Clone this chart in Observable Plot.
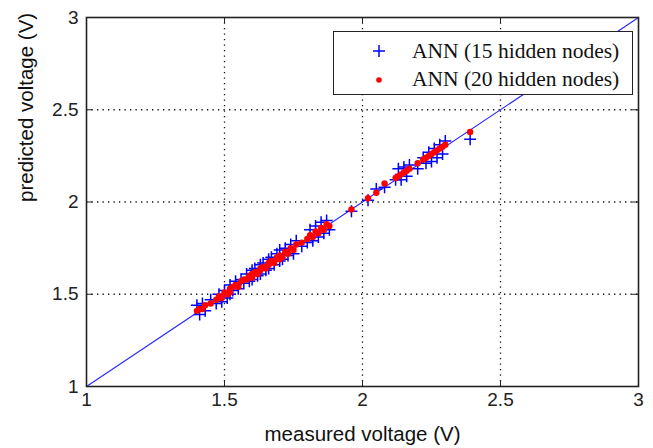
<!DOCTYPE html>
<html>
<head>
<meta charset="utf-8">
<script src="https://cdn.jsdelivr.net/npm/d3@7"></script>
<script src="https://cdn.jsdelivr.net/npm/@observablehq/plot@0.6"></script>
<style>
  html, body { margin: 0; padding: 0; background: #fff; }
  #wrap { position: relative; width: 653px; height: 448px; }
  #legend { position: absolute; left: 333px; top: 31px; width: 300px; height: 64px;
    border: 1px solid #222; background: #fff; box-sizing: border-box;
    font-family: "Liberation Serif", "Times New Roman", serif; font-size: 21.5px; color: #111; }
  #legend .row { position: absolute; left: 0; height: 26px; line-height: 26px; white-space: nowrap; }
  #legend svg { position: absolute; left: 33px; top: 0; }
  #legend span { position: absolute; left: 78px; top: 0; }
</style>
</head>
<body>
<div id="wrap"></div>
<script>
// ---- data ----
const measured = [1.40,1.41,1.42,1.43,1.45,1.47,1.48,1.49,1.50,1.51,1.52,1.52,1.53,1.54,1.55,1.56,1.57,1.58,1.59,1.60,1.60,1.61,1.62,1.63,1.63,1.64,1.65,1.66,1.66,1.67,1.68,1.69,1.70,1.70,1.71,1.72,1.73,1.74,1.75,1.76,1.78,1.80,1.81,1.82,1.83,1.84,1.85,1.86,1.87,1.88,1.96,2.02,2.05,2.08,2.12,2.13,2.14,2.15,2.16,2.17,2.20,2.22,2.23,2.24,2.25,2.26,2.27,2.28,2.29,2.30,2.39];
const ann15 = [1.44,1.39,1.45,1.41,1.47,1.45,1.50,1.46,1.52,1.48,1.55,1.50,1.52,1.57,1.53,1.58,1.56,1.61,1.57,1.63,1.58,1.64,1.60,1.66,1.61,1.67,1.63,1.69,1.64,1.70,1.66,1.72,1.68,1.74,1.69,1.75,1.71,1.77,1.72,1.79,1.76,1.78,1.85,1.79,1.87,1.81,1.89,1.83,1.90,1.85,1.95,2.01,2.07,2.08,2.12,2.18,2.12,2.19,2.14,2.20,2.18,2.24,2.21,2.27,2.22,2.29,2.24,2.31,2.26,2.33,2.34];
const ann20 = [1.41,1.42,1.42,1.44,1.45,1.47,1.49,1.48,1.51,1.50,1.53,1.51,1.54,1.55,1.54,1.57,1.58,1.58,1.60,1.59,1.61,1.62,1.61,1.64,1.63,1.65,1.64,1.67,1.66,1.68,1.67,1.70,1.69,1.71,1.70,1.73,1.72,1.75,1.74,1.77,1.78,1.80,1.82,1.81,1.84,1.83,1.86,1.85,1.88,1.87,1.96,2.02,2.05,2.10,2.13,2.14,2.15,2.16,2.17,2.18,2.21,2.23,2.24,2.25,2.26,2.27,2.28,2.29,2.30,2.31,2.38];
const idealLine = [1, 3];
const ticks = [1, 1.5, 2, 2.5, 3];
const gridVals = [1.5, 2, 2.5];
const seriesNames = ["ANN (15 hidden nodes)", "ANN (20 hidden nodes)"];

const pts15 = measured.map((m, i) => ({m, p: ann15[i]}));
const pts20 = measured.map((m, i) => ({m, p: ann20[i]}));

const W = 653, H = 448, mL = 86, mR = 15, mT = 17, mB = 62;
const fw = W - mL - mR, fh = H - mT - mB;

const plusSymbol = {
  draw(ctx, size) {
    const r = Math.sqrt(size / Math.PI);
    ctx.moveTo(-r, 0); ctx.lineTo(r, 0);
    ctx.moveTo(0, -r); ctx.lineTo(0, r);
  }
};

const chart = Plot.plot({
  width: W, height: H,
  marginLeft: mL, marginRight: mR, marginTop: mT, marginBottom: mB,
  style: {fontFamily: "Liberation Sans, Arial, sans-serif", fontSize: "19px", color: "#222", background: "#fff"},
  x: {domain: [1, 3], label: null},
  y: {domain: [1, 3], label: null},
  marks: [
    Plot.ruleX(gridVals, {x: d => d, stroke: "#111", strokeWidth: 1.3, strokeDasharray: "1.3,4.2"}),
    Plot.ruleY(gridVals, {y: d => d, stroke: "#111", strokeWidth: 1.3, strokeDasharray: "1.3,4.2"}),
    Plot.line(idealLine, {x: d => d, y: d => d, stroke: "#2a2aff", strokeWidth: 1.2}),
    Plot.dot(pts15, {x: "m", y: "p", symbol: plusSymbol, r: 6, stroke: "#0000ff", strokeWidth: 1.5, fill: "none"}),
    Plot.dot(pts20, {x: "m", y: "p", r: 3.2, fill: "#ff0000", stroke: "none"}),
    // inward ticks on all four sides (MATLAB style)
    Plot.tickX(ticks, {x: d => d, insetTop: fh - 6, stroke: "#222"}),
    Plot.tickX(ticks, {x: d => d, insetBottom: fh - 6, stroke: "#222"}),
    Plot.tickY(ticks, {y: d => d, insetRight: fw - 6, stroke: "#222"}),
    Plot.tickY(ticks, {y: d => d, insetLeft: fw - 6, stroke: "#222"}),
    Plot.axisX(ticks, {tickSize: 0, tickPadding: 6, tickFormat: d => String(d), label: null, fill: "#222"}),
    Plot.axisY(ticks, {tickSize: 0, tickPadding: 8, tickFormat: d => String(d), label: null, fill: "#222"}),
    Plot.text(["measured voltage (V)"], {frameAnchor: "bottom", dy: 48, text: d => d, fontSize: 20.5, fill: "#111", lineAnchor: "middle"}),
    Plot.text(["predicted voltage (V)"], {frameAnchor: "left", dx: -60, rotate: -90, text: d => d, fontSize: 20.5, fill: "#111"}),
    Plot.frame({stroke: "#222", strokeWidth: 1.6})
  ]
});

const wrap = document.getElementById("wrap");
wrap.appendChild(chart);

const legend = document.createElement("div");
legend.id = "legend";
legend.innerHTML = `
  <div class="row" style="top:6px; width:100%">
    <svg width="24" height="26"><path d="M6,13H18M12,7V19" stroke="#0000ff" stroke-width="1.5" fill="none"/></svg>
    <span>${seriesNames[0]}</span>
  </div>
  <div class="row" style="top:34px; width:100%">
    <svg width="24" height="26"><circle cx="12" cy="14" r="2.8" fill="#ff0000"/></svg>
    <span>${seriesNames[1]}</span>
  </div>`;
wrap.appendChild(legend);
</script>
</body>
</html>
